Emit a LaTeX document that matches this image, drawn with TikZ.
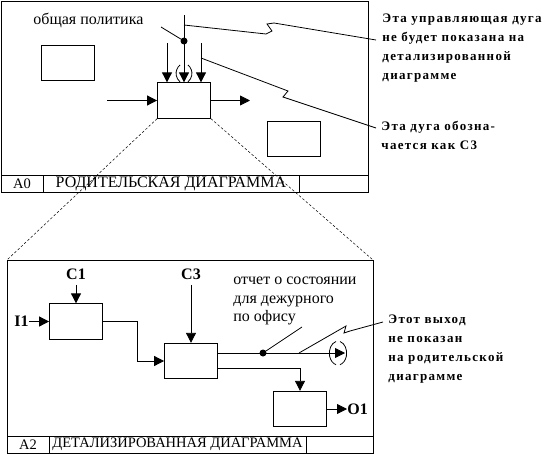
\documentclass[tikz,border=0pt]{standalone}
\usepackage{fontspec}
\setmainfont{Liberation Serif}
\newfontfamily\notefont[LetterSpace=10]{Liberation Serif}
\usepackage{tikz}
\usetikzlibrary{positioning,arrows.meta,calc}

\begin{document}
\begin{tikzpicture}[x=1pt,y=-1pt,line width=0.8pt,
  blk/.style={draw,minimum width=53pt,minimum height=35.5pt,inner sep=0pt},
  arr/.style={-{Triangle[length=10pt,width=10pt]}},
  cell/.style={draw,minimum height=17pt,inner sep=0pt,font=\fontsize{14.5}{14}\selectfont},
  txt/.style={font=\fontsize{16}{18.5}\selectfont,inner sep=0pt,align=left},
  note/.style={font=\notefont\bfseries\fontsize{13}{19}\selectfont,align=left,inner sep=0pt,anchor=north west},
  lbl/.style={font=\bfseries\fontsize{16}{16}\selectfont,inner sep=0pt},
  zoomline/.style={line width=0.5pt,dash pattern=on 2.5pt off 2pt}]
  \useasboundingbox (0,0) rectangle (555,455);
  % parent diagram
  \draw (1,1) rectangle (368,192);
  \draw (1,175) -- (368,175);
  \node[cell,minimum width=42pt] (pnum) at (22,183.5) {A0};
  \node[cell,minimum width=256pt,font=\fontsize{16}{16}\selectfont] (ptitle) at (171,183.5) {РОДИТЕЛЬСКАЯ ДИАГРАММА};
  \node[txt,anchor=west] (policy) at (33,20) {общая политика};
  \node[blk] (pleft) at (68,63) {};
  \node[blk] (pmain) at (184,100.5) {};
  \node[blk] (pright) at (294,139) {};
  \coordinate (pin) at (107,100.5);
  \coordinate (pout) at (250,100.5);
  \draw[arr] (pin) -- (pmain.west);
  \draw[arr] (pmain.east) -- (pout);
  \coordinate (pc1) at (167,43);
  \coordinate (pc2) at (184,15);
  \coordinate (pc3) at (201,43);
  \foreach \c in {pc1,pc2,pc3}{\draw[arr] (\c) -- (\c |- pmain.north);}
  \coordinate (pdot) at (184,41);
  \coordinate (pbr) at (161,27);
  \fill (pdot) circle (3.5pt);
  \draw (pbr) -- (pdot);
  \draw (180,65) arc[start angle=130,end angle=230,radius=11pt];
  \draw (188,65) arc[start angle=50,end angle=-50,radius=11pt];
  % notes on the parent
  \node[note] (note1) at (382,13) {Эта управляющая дуга\\не будет показана на\\детализированной\\диаграмме};
  \node[note] (note2) at (381,121) {Эта дуга обозна-\\чается как C3};
  \coordinate (ptap1) at (184,25);
  \coordinate (ptap2) at (201,58);
  \draw (ptap1) -- (266,34) -- (272,31) -- (267,24) -- (274,23) -- (376,40);
  \draw (ptap2) -- (288,91) -- (283,97) -- (292,100) -- (376,128);
  % zoom lines
  \coordinate (cnw) at (7,260);
  \coordinate (cne) at (373,260);
  \draw[zoomline] (pmain.south west) -- (cnw);
  \draw[zoomline] (pmain.south east) -- (cne);
  % child diagram
  \draw (cnw) rectangle (373,453);
  \draw (7,436) -- (373,436);
  \node[cell,minimum width=42pt] (cnum) at (28,444.5) {A2};
  \node[cell,minimum width=257pt] (ctitle) at (177.5,444.5) {ДЕТАЛИЗИРОВАННАЯ ДИАГРАММА};
  \node[blk] (cbox1) at (76,321.5) {};
  \node[blk] (cbox2) at (191,361) {};
  \node[blk] (cbox3) at (300,409) {};
  \node[lbl] (c1) at (76,274) {C1};
  \node[lbl] (c3) at (191,274) {C3};
  \node[lbl,anchor=east] (i1) at (29,321.5) {I1};
  \node[lbl,anchor=west] (o1) at (347,409) {O1};
  \draw[arr] ([yshift=-5pt]c1.south) -- (cbox1.north);
  \draw[arr] ([yshift=-5pt]c3.south) -- (cbox2.north);
  \draw[arr] (i1.east) -- (cbox1.west);
  \draw[arr] (cbox3.east) -- (o1.west);
  \draw[arr] (cbox1.east) -- ++(34,0) |- (cbox2.west);
  \coordinate (cfree) at (345,353);
  \coordinate (cdot) at (263,353);
  \draw[arr] ([yshift=8pt]cbox2.east) -- (cfree);
  \draw[arr] ([yshift=-7pt]cbox2.east) -| (cbox3.north);
  \fill (cdot) circle (3.5pt);
  \node[txt,anchor=north west] (report) at (233,277) {отчет о состоянии\\для дежурного\\по офису};
  \draw (cdot) -- (302,327);
  \draw (336,341.5) arc[start angle=105,end angle=255,x radius=9pt,y radius=12pt];
  \draw (340,341.5) arc[start angle=75,end angle=-75,x radius=9pt,y radius=12pt];
  \node[note] (note3) at (388,314) {Этот выход\\не показан\\на родительской\\диаграмме};
  \coordinate (ctap) at (299,353);
  \draw (ctap) -- (346,326) -- (344,333) -- (350,331) -- (383,322);
\end{tikzpicture}
\end{document}
